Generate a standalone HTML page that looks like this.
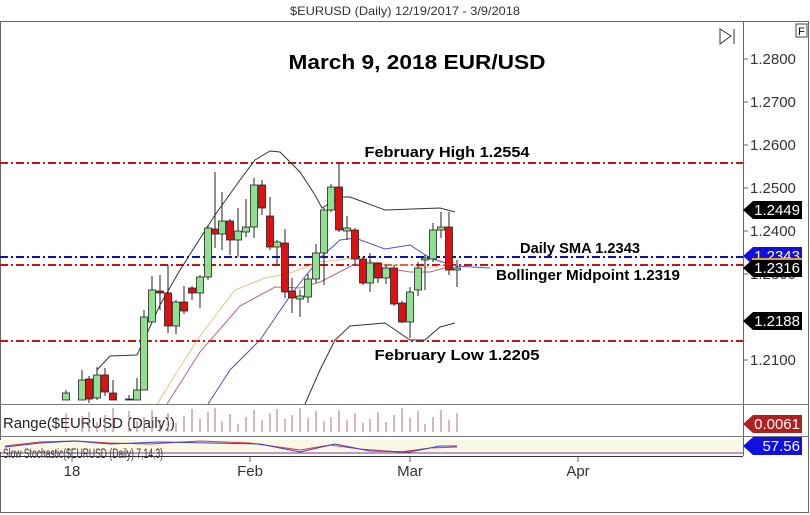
<!DOCTYPE html>
<html><head><meta charset="utf-8"><style>
body{margin:0;background:#fff;}
svg{display:block;font-family:"Liberation Sans",Arial,sans-serif;}
</style></head><body>
<svg id="s" width="810" height="515" viewBox="0 0 810 515" xmlns="http://www.w3.org/2000/svg">
<rect x="0" y="0" width="810" height="515" fill="#fff"/>
<text x="405" y="15" font-size="12" text-anchor="middle" fill="#333" textLength="230" lengthAdjust="spacingAndGlyphs">$EURUSD (Daily)  12/19/2017 - 3/9/2018</text>
<rect x="0.5" y="21.5" width="808" height="491" fill="none" stroke="#666"/>
<line x1="743.5" y1="22" x2="743.5" y2="456" stroke="#666"/>
<line x1="0" y1="404.5" x2="808" y2="404.5" stroke="#777"/>
<line x1="0" y1="436.5" x2="808" y2="436.5" stroke="#777"/>
<line x1="0" y1="456.5" x2="743" y2="456.5" stroke="#333"/>
<rect x="796" y="24" width="11" height="13" fill="#fff" stroke="#444"/>
<text x="801.5" y="35" font-size="11" text-anchor="middle">F</text>
<path d="M720 29 L731 36 L720 44 Z" fill="none" stroke="#333"/><line x1="734" y1="29" x2="734" y2="44" stroke="#333"/>
<g id="axis" font-size="15" fill="#333"></g>
<g id="hl"></g>
<g id="bands" fill="none"></g>
<g id="candles"></g>
<text x="417" y="69" font-size="20" font-weight="bold" text-anchor="middle" textLength="257" lengthAdjust="spacingAndGlyphs">March 9, 2018 EUR/USD</text>
<text x="447" y="157" font-size="15" font-weight="bold" text-anchor="middle" textLength="165" lengthAdjust="spacingAndGlyphs">February High 1.2554</text>
<text x="580" y="253" font-size="15" font-weight="bold" text-anchor="middle" textLength="120" lengthAdjust="spacingAndGlyphs">Daily SMA 1.2343</text>
<text x="588" y="280" font-size="15" font-weight="bold" text-anchor="middle" textLength="184" lengthAdjust="spacingAndGlyphs">Bollinger Midpoint 1.2319</text>
<text x="457" y="360" font-size="15" font-weight="bold" text-anchor="middle" textLength="165" lengthAdjust="spacingAndGlyphs">February Low 1.2205</text>
<g id="tags" font-size="15" fill="#fff"></g>
<text x="3" y="428" font-size="15" fill="#222" textLength="172" lengthAdjust="spacingAndGlyphs">Range($EURUSD (Daily))</text>
<g id="range"></g>
<g id="stoch" fill="none"></g>
<text x="3" y="458" font-size="14" fill="#333" textLength="160" lengthAdjust="spacingAndGlyphs">Slow Stochastic($EURUSD (Daily) 7,14,3)</text>
<g font-size="15" fill="#333" text-anchor="middle">
<text x="72" y="476">18</text><text x="250" y="476">Feb</text><text x="410" y="476">Mar</text><text x="578" y="476">Apr</text>
</g>
<g stroke="#666"><line x1="72" y1="457" x2="72" y2="462"/><line x1="250" y1="457" x2="250" y2="462"/><line x1="410" y1="457" x2="410" y2="462"/><line x1="578" y1="457" x2="578" y2="462"/></g>
</svg>
<script>
var NS="http://www.w3.org/2000/svg";
function el(p,t,a,txt){var e=document.createElementNS(NS,t);for(var k in a)e.setAttribute(k,a[k]);if(txt!=null)e.textContent=txt;document.getElementById(p).appendChild(e);return e;}
[[59,"1.2800"],[102,"1.2700"],[145,"1.2600"],[188,"1.2500"],[231,"1.2400"],[274,"1.2300"],[360,"1.2100"]].forEach(function(t){
 el("axis","line",{x1:743,y1:t[0],x2:748,y2:t[0],stroke:"#666"});
 el("axis","text",{x:750,y:t[0]+5},t[1]);});
function hline(y,c){el("hl","line",{x1:0,y1:y,x2:743,y2:y,stroke:c,"stroke-width":2,"stroke-dasharray":"8,3,2,3"});}
hline(163,"#d01010");hline(257,"#1010b0");hline(265,"#d01010");hline(341,"#d01010");
function pl(pts,c,w){el("bands","polyline",{points:pts,stroke:c,"stroke-width":w||1});}
pl("97,370 110,356 137,355 160,305 180,270 215,215 240,180 255,160 270,151 280,152 300,172 315,195 322,208 340,197 350,197 385,210 440,208 455,212","#333");
pl("305,404 320,370 335,340 350,326 385,323 410,340 425,340 440,327 455,323","#333");
pl("208,404 230,370 260,340 290,296 300,283 320,258 340,240 355,238 385,249 410,245 430,258 455,266 490,268","#5050c8");
pl("157,404 175,375 200,336 235,290 265,278 290,273 320,262 355,258 385,265 410,265 430,268 455,262","#f0c080");
pl("167,404 200,352 240,306 275,287 300,288 320,282 355,264 385,268 410,272 430,272 455,265","#c06080");
var C=[[66,393,400,390,400,1],[82,380,400,370,400,1],[89,379,399,376,403,0],[97,375,398,367,400,1],[105,375,392,368,396,0],[113,393,400,380,400,0],[129,399,400,395,400,0],[137,390,400,378,400,1],[144,317,390,310,390,1],[152,290,322,276,322,1],[160,291,293,275,310,0],[168,293,326,265,333,0],[176,302,326,300,334,1],[184,302,311,286,314,0],[192,288,293,286,300,0],[200,277,293,275,308,1],[208,228,277,225,280,1],[215,229,234,172,248,0],[222,221,234,192,250,1],[230,221,240,219,255,0],[238,231,240,208,257,1],[246,227,232,199,237,1],[254,185,227,178,238,1],[262,185,208,180,215,0],[270,216,247,197,250,0],[277,242,247,240,265,1],[285,243,292,229,298,0],[292,291,298,278,313,0],[300,296,299,290,317,1],[308,279,297,274,303,1],[316,253,279,244,283,1],[324,210,253,208,285,1],[331,187,210,184,212,1],[339,187,230,163,232,0],[347,228,231,216,240,1],[355,230,259,228,265,0],[363,259,283,257,285,0],[370,263,283,253,292,1],[378,263,278,262,283,0],[386,268,278,265,284,1],[394,268,304,265,306,0],[402,303,322,301,323,0],[410,292,322,287,338,1],[418,268,290,262,296,1],[425,258,260,255,290,1],[433,230,259,223,262,1],[441,227,230,212,238,1],[449,227,270,212,275,0],[457,268,270,260,287,1]];
C.forEach(function(c){
 el("candles","line",{x1:c[0],y1:c[3],x2:c[0],y2:c[4],stroke:"#222"});
 el("candles","rect",{x:c[0]-3.5,y:c[1],width:7,height:Math.max(1,c[2]-c[1]),fill:c[5]?"#90e090":"#e01010",stroke:"#222","stroke-width":0.8});
 var h=8+((c[0]*37)%17);
 el("range","line",{x1:c[0],y1:432-h,x2:c[0],y2:432,stroke:"#b07070"});
});
el("stoch","rect",{x:0,y:440,width:743,height:12,fill:"#f8f8e4",stroke:"none"});
el("stoch","line",{x1:0,y1:453,x2:743,y2:453,stroke:"#803080"});
el("stoch","polyline",{points:"5,446 40,442 75,441 110,443 150,444 200,441 250,443 300,450 330,445 360,449 400,452 430,448 457,447",stroke:"#d04040"});
el("stoch","polyline",{points:"5,447 40,443 75,441 110,444 160,442 210,443 260,444 300,452 335,444 370,451 410,452 440,446 457,446",stroke:"#4040d0"});
function tag(y,txt,col){el("tags","path",{d:"M743 "+y+" L753 "+(y-9)+" L802 "+(y-9)+" L802 "+(y+9)+" L753 "+(y+9)+" Z",fill:col});
 el("tags","text",{x:800,y:y+5,"text-anchor":"end"},txt);}
tag(210,"1.2449","#000");tag(256,"1.2343","#1010e0");tag(268,"1.2316","#000");tag(321,"1.2188","#000");
tag(424,"0.0061","#b02020");tag(446,"57.56","#1010e0");
el("tags","line",{x1:752,y1:259,x2:802,y2:259,stroke:"#e0a040","stroke-width":2});
</script>
</body></html>
